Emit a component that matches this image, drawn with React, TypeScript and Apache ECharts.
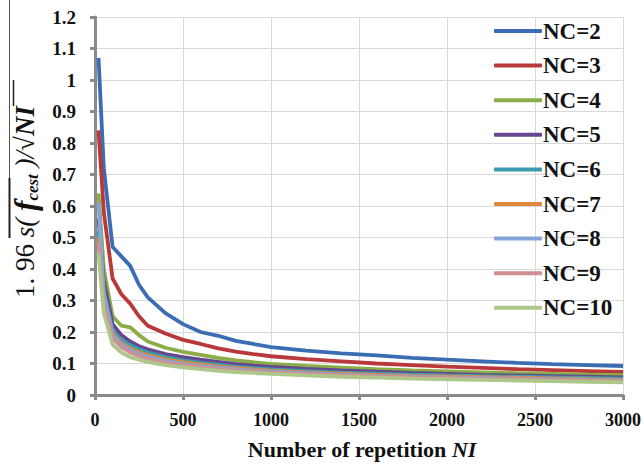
import React, { useEffect, useRef } from "react";
import * as echarts from "echarts";

const NI = [20, 50, 100, 150, 200, 250, 300, 400, 500, 600, 700, 800, 900, 1000, 1200, 1400, 1600, 1800, 2000, 2200, 2400, 2600, 2800, 3000];

const NC2 = [1.07, 0.72, 0.47, 0.44, 0.41, 0.35, 0.31, 0.26, 0.225, 0.2, 0.188, 0.172, 0.162, 0.152, 0.141, 0.132, 0.126, 0.118, 0.112, 0.107, 0.102, 0.098, 0.095, 0.092];
const NC3 = [0.84, 0.58, 0.37, 0.32, 0.29, 0.25, 0.22, 0.195, 0.175, 0.162, 0.148, 0.138, 0.13, 0.123, 0.114, 0.107, 0.1, 0.095, 0.09, 0.086, 0.082, 0.079, 0.076, 0.073];
const NC4 = [0.64, 0.4, 0.25, 0.22, 0.215, 0.19, 0.17, 0.15, 0.137, 0.127, 0.118, 0.11, 0.104, 0.099, 0.092, 0.087, 0.082, 0.078, 0.075, 0.072, 0.069, 0.067, 0.065, 0.063];
const NC5 = [0.56, 0.36, 0.225, 0.19, 0.17, 0.155, 0.145, 0.13, 0.12, 0.112, 0.105, 0.098, 0.093, 0.089, 0.083, 0.078, 0.074, 0.07, 0.067, 0.064, 0.062, 0.06, 0.058, 0.056];
const NC6 = [0.52, 0.33, 0.205, 0.175, 0.158, 0.145, 0.135, 0.12, 0.11, 0.102, 0.096, 0.09, 0.085, 0.081, 0.076, 0.071, 0.068, 0.065, 0.062, 0.06, 0.058, 0.056, 0.054, 0.052];
const NC7 = [0.5, 0.31, 0.195, 0.165, 0.148, 0.136, 0.127, 0.113, 0.104, 0.097, 0.091, 0.086, 0.081, 0.077, 0.072, 0.068, 0.064, 0.061, 0.059, 0.057, 0.055, 0.053, 0.05, 0.048];
const NC8 = [0.61, 0.32, 0.19, 0.16, 0.142, 0.13, 0.121, 0.108, 0.099, 0.092, 0.087, 0.082, 0.077, 0.074, 0.069, 0.065, 0.061, 0.058, 0.056, 0.054, 0.052, 0.05, 0.048, 0.046];
const NC9 = [0.48, 0.29, 0.18, 0.152, 0.135, 0.124, 0.115, 0.103, 0.095, 0.088, 0.083, 0.078, 0.074, 0.071, 0.066, 0.062, 0.059, 0.056, 0.054, 0.052, 0.05, 0.048, 0.046, 0.044];
const NC10 = [0.45, 0.26, 0.16, 0.135, 0.12, 0.112, 0.105, 0.095, 0.088, 0.082, 0.077, 0.073, 0.07, 0.067, 0.062, 0.058, 0.055, 0.052, 0.05, 0.048, 0.046, 0.044, 0.042, 0.04];

const SERIES_NAMES = ["NC=2", "NC=3", "NC=4", "NC=5", "NC=6", "NC=7", "NC=8", "NC=9", "NC=10"];
const SERIES_VALUES = [NC2, NC3, NC4, NC5, NC6, NC7, NC8, NC9, NC10];
const COLORS = ["#3b6db5", "#b9393a", "#8aad48", "#65468f", "#3a9cae", "#e0883a", "#85a5d8", "#cf8f93", "#adc78a"];

const SERIF = "Liberation Serif";

export default function App() {
  const ref = useRef<HTMLDivElement>(null);
  useEffect(() => {
    if (!ref.current) return;
    document.body.style.margin = "0";
    const chart = echarts.init(ref.current, undefined, { renderer: "svg" });
    chart.setOption({
      animation: false,
      backgroundColor: "#ffffff",
      grid: { left: 95, right: 21, top: 17, bottom: 73 },
      xAxis: {
        type: "value",
        min: 0,
        max: 3000,
        interval: 500,
        axisLine: { show: true, lineStyle: { color: "#8a8a8a", width: 3 } },
        axisTick: { show: true, length: 5, lineStyle: { color: "#8a8a8a", width: 3 } },
        splitLine: { show: true, lineStyle: { color: "#d9d9d9", width: 1 } },
        axisLabel: {
          margin: 16,
          fontFamily: SERIF,
          fontWeight: 700,
          fontSize: 18,
          color: "#111",
          formatter: (v: number) => String(v),
        },
      },
      yAxis: {
        type: "value",
        min: 0,
        max: 1.2,
        interval: 0.1,
        axisLine: { show: true, lineStyle: { color: "#8a8a8a", width: 3 } },
        axisTick: { show: true, length: 5, lineStyle: { color: "#8a8a8a", width: 3 } },
        splitLine: { show: true, lineStyle: { color: "#d9d9d9", width: 1 } },
        axisLabel: {
          margin: 19,
          fontFamily: SERIF,
          fontWeight: 700,
          fontSize: 19,
          color: "#111",
          formatter: (v: number) => String(Math.round(v * 10) / 10),
        },
      },
      legend: {
        orient: "vertical",
        left: 494,
        top: 19,
        padding: 0,
        itemWidth: 48,
        itemHeight: 4,
        itemGap: 10.6,
        icon: "roundRect",
        textStyle: {
          fontFamily: SERIF,
          fontWeight: 700,
          fontSize: 23,
          color: "#111",
          lineHeight: 24,
          padding: [0, 0, 0, -4],
        },
        data: SERIES_NAMES,
      },
      series: SERIES_NAMES.map((name, i) => ({
        name,
        type: "line",
        showSymbol: false,
        symbol: "none",
        color: COLORS[i],
        lineStyle: { width: 3.8, color: COLORS[i] },
        data: NI.map((x, j) => [x, SERIES_VALUES[i][j]]),
      })),
      graphic: [
        {
          type: "text",
          x: 25,
          y: 202,
          rotation: Math.PI / 2,
          style: {
            text: "{a|1. 96 }{b|s( }{f|f}{c|cest}{b| )/√}{n|NI}",
            align: "center",
            verticalAlign: "middle",
            fill: "#111",
            rich: {
              a: { fontFamily: SERIF, fontSize: 27, fill: "#111" },
              b: { fontFamily: SERIF, fontSize: 27, fontStyle: "italic", fill: "#111" },
              f: { fontFamily: SERIF, fontSize: 31, fontStyle: "italic", fontWeight: "bold", fill: "#111" },
              c: { fontFamily: SERIF, fontSize: 17, fontStyle: "italic", fontWeight: "bold", fill: "#111", verticalAlign: "bottom" },
              n: { fontFamily: SERIF, fontSize: 27, fontStyle: "italic", fontWeight: "bold", fill: "#111" },
            },
          },
        },
        {
          type: "line",
          shape: { x1: 9.5, y1: 0, x2: 9.5, y2: 178 },
          style: { stroke: "#555", lineWidth: 1 },
        },
        {
          type: "line",
          shape: { x1: 9.5, y1: 178, x2: 9.5, y2: 238 },
          style: { stroke: "#222", lineWidth: 2 },
        },
        {
          type: "line",
          shape: { x1: 13.5, y1: 80, x2: 13.5, y2: 106 },
          style: { stroke: "#222", lineWidth: 1.5 },
        },
        {
          type: "text",
          x: 362,
          y: 449,
          style: {
            text: "{r|Number of repetition }{i|NI}",
            align: "center",
            verticalAlign: "middle",
            rich: {
              r: { fontFamily: SERIF, fontSize: 22, fontWeight: "bold", fill: "#111" },
              i: { fontFamily: SERIF, fontSize: 22, fontWeight: "bold", fontStyle: "italic", fill: "#111" },
            },
          },
        },
      ],
    });
    return () => chart.dispose();
  }, []);
  return <div ref={ref} style={{ width: 644, height: 468 }} />;
}
